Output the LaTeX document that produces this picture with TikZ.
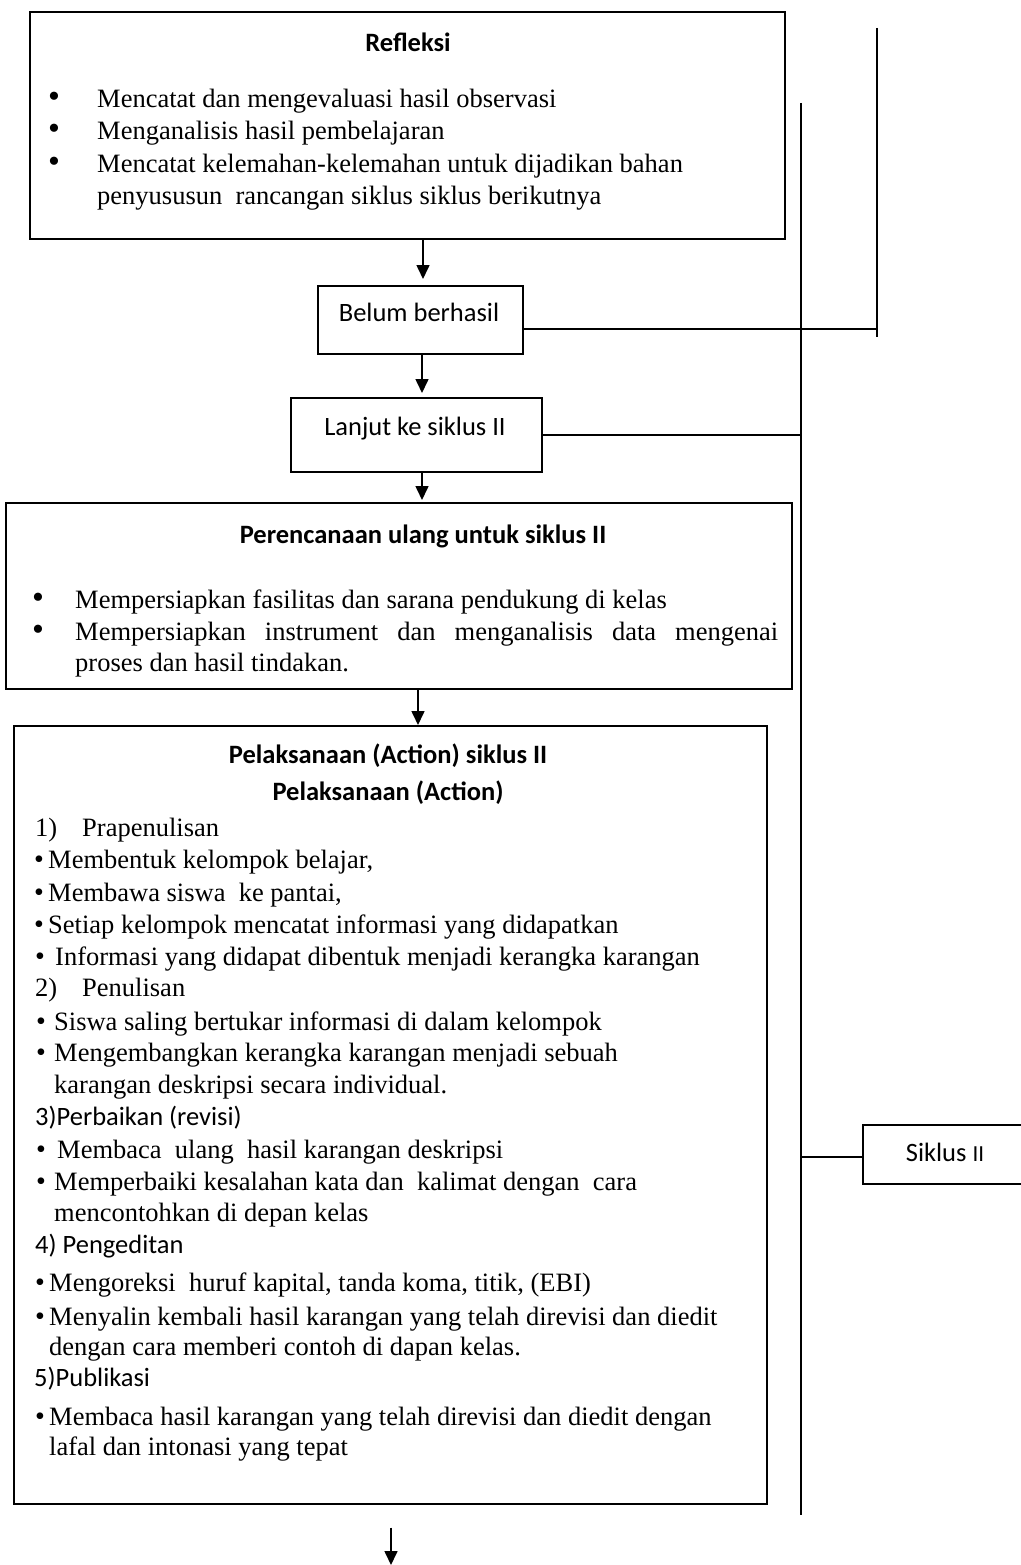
\documentclass[tikz,border=0pt]{standalone}
\usepackage{fontspec}
\setmainfont{Liberation Serif}
\newfontfamily\calfont{Carlito}
\usetikzlibrary{arrows.meta,calc}
\begin{document}
\begin{tikzpicture}[x=1pt,y=-1pt,
  box/.style={draw,line width=1.6pt,anchor=north west,inner sep=0pt},
  tx/.style={anchor=mid west,inner sep=0pt,yshift=-6pt,font=\fontsize{26.5}{30}\selectfont},
  cx/.style={anchor=mid west,inner sep=0pt,yshift=-6pt,font=\calfont\fontsize{26.5}{30}\selectfont},
  hd/.style={anchor=mid,inner sep=0pt,yshift=-6pt,font=\calfont\bfseries\fontsize{26.5}{30}\selectfont},
  bl/.style={anchor=mid,inner sep=0pt,yshift=-6pt,font=\fontsize{34}{36}\selectfont},
  bs/.style={anchor=mid,inner sep=0pt,yshift=-6pt,font=\fontsize{28}{30}\selectfont},
  ln/.style={line width=1.6pt},
  arr/.style={line width=1.6pt,-{Triangle[length=14pt,width=13pt]}}]
\useasboundingbox[fill=white] (0,0) rectangle (1020,1565);

% boxes
\node[box,minimum width=755pt,minimum height=227pt] (refl) at (29,11) {};
\node[box,minimum width=205pt,minimum height=68pt] (belum) at (317,285) {};
\node[box,minimum width=251pt,minimum height=74pt] (lanjut) at (290,397) {};
\node[box,minimum width=786pt,minimum height=186pt] (perenc) at (5,502) {};
\node[box,minimum width=753pt,minimum height=778pt] (action) at (13,725) {};
\node[box,minimum width=175pt,minimum height=59pt] (siklus) at (862,1124) {};

% Refleksi
\node[hd] (t1) at (408,43) {Refleksi};
\node[bl] (r1b) at (54,99) {\textbullet};
\node[tx] (r1) at (97,99) {Mencatat dan mengevaluasi hasil observasi};
\node[bl] (r2b) at (54,131) {\textbullet};
\node[tx] (r2) at (97,131) {Menganalisis hasil pembelajaran};
\node[bl] (r3b) at (54,164) {\textbullet};
\node[tx] (r3) at (97,164) {Mencatat kelemahan-kelemahan untuk dijadikan bahan};
\node[tx] (r4) at (97,196) {penyususun\ \ rancangan siklus siklus berikutnya};

% small boxes text
\node[cx,anchor=mid] (tb) at (419,313) {Belum berhasil};
\node[cx,anchor=mid] (tl) at (415,427) {Lanjut ke siklus II};
\node[cx,anchor=mid] (ts) at (945,1153) {Siklus {\fontsize{23}{26}\selectfont II}};

% Perencanaan
\node[hd] (t2) at (423,535) {Perencanaan ulang untuk siklus II};
\node[bl] (p1b) at (38,600) {\textbullet};
\node[tx] (p1) at (75,600) {Mempersiapkan fasilitas dan sarana pendukung di kelas};
\node[bl] (p2b) at (38,632) {\textbullet};
\node[tx] (p2) at (75,632) {\makebox[703pt][s]{Mempersiapkan instrument dan menganalisis data mengenai}};
\node[tx] (p3) at (75,663) {proses dan hasil tindakan.};

% Action
\node[hd] (t3) at (388,755) {Pelaksanaan (Action) siklus II};
\node[hd] (t4) at (388,792) {Pelaksanaan (Action)};
\node[tx] (a1n) at (35,828) {1)};
\node[tx] (a1) at (82,828) {Prapenulisan};
\node[bs] (b1) at (39,860) {\textbullet};
\node[tx] (l1) at (48,860) {Membentuk kelompok belajar,};
\node[bs] (b2) at (39,893) {\textbullet};
\node[tx] (l2) at (48,893) {Membawa siswa\ \ ke pantai,};
\node[bs] (b3) at (39,925) {\textbullet};
\node[tx] (l3) at (48,925) {Setiap kelompok mencatat informasi yang didapatkan};
\node[bs] (b4) at (40,957) {\textbullet};
\node[tx] (l4) at (55,957) {Informasi yang didapat dibentuk menjadi kerangka karangan};
\node[tx] (a2n) at (35,988) {2)};
\node[tx] (a2) at (82,988) {Penulisan};
\node[bs] (b5) at (41,1022) {\textbullet};
\node[tx] (l5) at (54,1022) {Siswa saling bertukar informasi di dalam kelompok};
\node[bs] (b6) at (41,1053) {\textbullet};
\node[tx] (l6) at (54,1053) {Mengembangkan kerangka karangan menjadi sebuah};
\node[tx] (l6b) at (54,1085) {karangan deskripsi secara individual.};
\node[cx] (a3) at (35,1117) {3)Perbaikan (revisi)};
\node[bs] (b7) at (41,1150) {\textbullet};
\node[tx] (l7) at (57,1150) {Membaca\ \ ulang\ \ hasil karangan deskripsi};
\node[bs] (b8) at (41,1182) {\textbullet};
\node[tx] (l8) at (54,1182) {Memperbaiki kesalahan kata dan\ \ kalimat dengan\ \ cara};
\node[tx] (l8b) at (54,1213) {mencontohkan di depan kelas};
\node[cx] (a4) at (35,1245) {4) Pengeditan};
\node[bs] (b9) at (40,1283) {\textbullet};
\node[tx] (l9) at (49,1283) {Mengoreksi\ \ huruf kapital, tanda koma, titik, (EBI)};
\node[bs] (b10) at (40,1317) {\textbullet};
\node[tx] (l10) at (49,1317) {Menyalin kembali hasil karangan yang telah direvisi dan diedit};
\node[tx] (l10b) at (49,1347) {dengan cara memberi contoh di dapan kelas.};
\node[cx] (a5) at (34,1378) {5)Publikasi};
\node[bs] (b11) at (40,1417) {\textbullet};
\node[tx] (l11) at (49,1417) {Membaca hasil karangan yang telah direvisi dan diedit dengan};
\node[tx] (l11b) at (49,1447) {lafal dan intonasi yang tepat};

% vertical lines and connectors
\coordinate (rtop) at (877,28);
\coordinate (rbot) at (877,337);
\draw[ln] (rtop) -- (rbot);
\coordinate (mtop) at (801,103);
\coordinate (mbot) at (801,1515);
\draw[ln] (mtop) -- (mbot);
\coordinate (jb) at (877,329);
\draw[ln] (belum.east |- jb) -- (jb);
\coordinate (jl) at (801,435);
\draw[ln] (lanjut.east |- jl) -- (jl);
\coordinate (js) at (801,1157);
\draw[ln] (js) -- (siklus.west |- js);

% arrows
\coordinate (x1) at (423,0);
\coordinate (x2) at (422,0);
\coordinate (x4) at (418,0);
\coordinate (aend) at (391,1565);
\draw[arr,shorten >=6pt] (refl.south -| x1) -- (belum.north -| x1);
\draw[arr,shorten >=4pt] (belum.south -| x2) -- (lanjut.north -| x2);
\draw[arr,shorten >=2pt] (lanjut.south -| x2) -- (perenc.north -| x2);
\draw[arr] (perenc.south -| x4) -- (action.north -| x4);
\draw[arr,shorten <=23pt] (action.south -| aend) -- (aend);
\end{tikzpicture}
\end{document}
